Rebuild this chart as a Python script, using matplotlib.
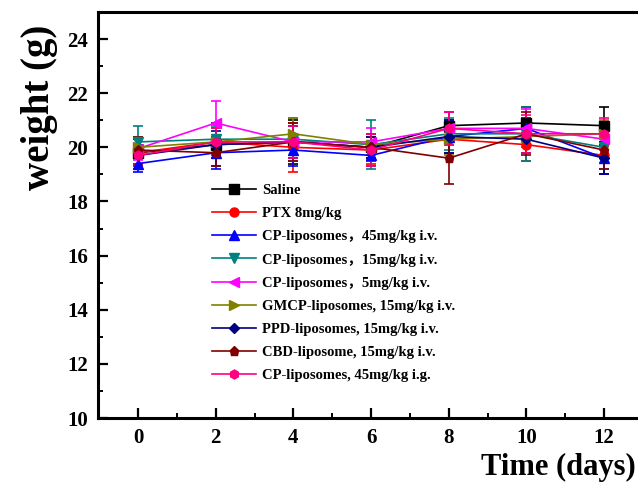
import matplotlib.pyplot as plt
from matplotlib.ticker import MultipleLocator

# days of measurement
days = [0, 2, 4, 6, 8, 10, 12]

# body weight (g), mean and error for each group
saline = [19.8, 20.1, 20.2, 20.0, 20.8, 20.9, 20.8]
saline_err = [0.5, 0.8, 0.8, 0.4, 0.5, 0.6, 0.7]
ptx = [19.8, 20.2, 20.0, 19.9, 20.3, 20.1, 19.7]
ptx_err = [0.6, 0.5, 0.9, 0.5, 0.5, 0.6, 0.7]
cp45_iv = [19.4, 19.8, 19.9, 19.7, 20.4, 20.7, 19.6]
cp45_iv_err = [0.3, 0.6, 0.6, 0.4, 0.6, 0.4, 0.6]
cp15_iv = [20.2, 20.3, 20.3, 20.1, 20.5, 20.5, 20.0]
cp15_iv_err = [0.6, 0.5, 0.8, 0.9, 0.6, 1.0, 0.8]
cp5_iv = [19.95, 20.9, 20.2, 20.2, 20.7, 20.7, 20.3]
cp5_iv_err = [0.4, 0.8, 0.6, 0.5, 0.6, 0.7, 0.6]
gmcp = [20.0, 20.2, 20.5, 20.1, 20.3, 20.4, 20.5]
gmcp_err = [0.4, 0.5, 0.6, 0.4, 0.6, 0.6, 0.5]
ppd = [19.7, 20.1, 20.2, 20.0, 20.4, 20.3, 19.6]
ppd_err = [0.4, 0.5, 0.6, 0.4, 0.6, 0.5, 0.6]
cbd = [19.9, 19.8, 20.2, 20.0, 19.6, 20.5, 19.9]
cbd_err = [0.5, 0.5, 0.7, 0.5, 0.95, 0.8, 0.7]
cp45_ig = [19.7, 20.2, 20.2, 19.9, 20.7, 20.5, 20.5]
cp45_ig_err = [0.4, 0.5, 0.6, 0.6, 0.6, 0.7, 0.6]

labels = ['Saline', 'PTX 8mg/kg', 'CP-liposomes，45mg/kg i.v.',
          'CP-liposomes，15mg/kg i.v.', 'CP-liposomes，5mg/kg i.v.',
          'GMCP-liposomes, 15mg/kg i.v.', 'PPD-liposomes, 15mg/kg i.v.',
          'CBD-liposome, 15mg/kg i.v.', 'CP-liposomes, 45mg/kg i.g.']
series = [saline, ptx, cp45_iv, cp15_iv, cp5_iv, gmcp, ppd, cbd, cp45_ig]
errors = [saline_err, ptx_err, cp45_iv_err, cp15_iv_err, cp5_iv_err,
          gmcp_err, ppd_err, cbd_err, cp45_ig_err]
colors = ['#000000', '#FF0000', '#0000FF', '#008080', '#FF00FF',
          '#808000', '#000080', '#800000', '#FF0080']
markers = ['s', 'o', '^', 'v', '<', '>', 'D', 'p', 'h']

plt.rcParams['font.family'] = ['Liberation Serif', 'Noto Sans CJK SC']
plt.rcParams['font.weight'] = 'bold'

fig = plt.figure(figsize=(6.38, 4.90), dpi=100)
ax = fig.add_axes([98 / 638, 72 / 490, 545 / 638, 406 / 490])

handles = []
for y, e, c, m, lab in zip(series, errors, colors, markers, labels):
    ms = 5.5 if m == 'D' else 6.5
    cont = ax.errorbar(days, y, yerr=e, color=c, marker=m, markersize=ms,
                       linewidth=1.2, elinewidth=1.2, capsize=3.5,
                       capthick=1.2, label=lab)
    handles.append(cont.lines[0])

ax.set_xlim(-1.03, 13.0)
ax.set_ylim(10, 25)
ax.xaxis.set_major_locator(MultipleLocator(2))
ax.xaxis.set_minor_locator(MultipleLocator(1))
ax.yaxis.set_major_locator(MultipleLocator(2))
ax.yaxis.set_minor_locator(MultipleLocator(1))
ax.tick_params(which='major', direction='in', length=7, width=1.6,
               labelsize=15, pad=7)
ax.tick_params(which='minor', direction='in', length=3.5, width=1.4)
for lbl in ax.get_xticklabels() + ax.get_yticklabels():
    lbl.set_fontweight('bold')
for s in ['left', 'bottom', 'top']:
    ax.spines[s].set_linewidth(2.2)
ax.spines['right'].set_visible(False)

fig.text(39 / 638, 1 - 107 / 490, 'weight (g)', rotation=90,
         ha='center', va='center', fontsize=28, fontweight='bold')
fig.text(636 / 638, 1 - 467 / 490, 'Time (days)', ha='right', va='center',
         fontsize=22, fontweight='bold')

ax.legend(handles, labels, loc='upper left',
          bbox_to_anchor=(212 / 638, 1 - 184 / 490),
          bbox_transform=fig.transFigure, frameon=False,
          handlelength=3.0, handletextpad=0.45, labelspacing=0.68,
          borderpad=0, borderaxespad=0, prop={'weight': 'bold', 'size': 10.5})

fig.savefig('out.png', dpi=100)
